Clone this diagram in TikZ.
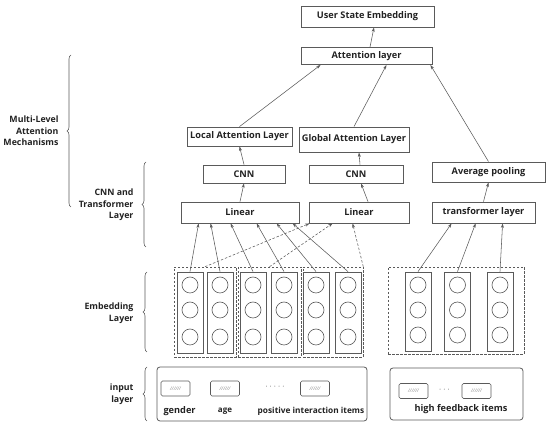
\documentclass[tikz,border=0pt]{standalone}
\usepackage{fontspec}
\setmainfont{Open Sans}
\usetikzlibrary{arrows.meta,calc,decorations.pathreplacing}
\definecolor{linegray}{HTML}{5A5A5A}
\definecolor{txtgray}{HTML}{222222}
\begin{document}
\begin{tikzpicture}[x=1pt,y=-1pt,
  every node/.style={font=\bfseries\fontsize{9.2}{11}\selectfont,text=txtgray},
  box/.style={draw=linegray,line width=0.8pt,inner sep=0pt},
  arr/.style={-{Stealth[length=4.5pt,width=3pt]},draw=linegray,line width=0.55pt},
  darr/.style={arr,dashed,dash pattern=on 2.5pt off 1.8pt},
  col/.style={draw=linegray,line width=0.8pt,minimum width=26pt,inner sep=0pt},
  ball/.style={draw=linegray,circle,minimum size=16pt,inner sep=0pt,line width=0.6pt},
  grp/.style={draw=linegray,dashed,dash pattern=on 2.5pt off 1.5pt,line width=0.6pt,inner sep=0pt},
  tag/.style={draw=linegray,rounded corners=1.5pt,line width=0.6pt,minimum width=29pt,minimum height=15pt,inner sep=0pt,font=\itshape\fontsize{5}{6}\selectfont,text=gray},
  brc/.style={decorate,decoration={brace,amplitude=4pt},draw=linegray,line width=0.6pt},
  lbl/.style={align=right,anchor=east,font=\bfseries\fontsize{8.8}{11.5}\selectfont}]
\useasboundingbox (0,0) rectangle (550,427);

% upper part
\node[box,minimum width=133pt,minimum height=21pt] (user) at (367.5,16.5) {User State Embedding};
\node[box,minimum width=131pt,minimum height=17pt] (attn) at (366.5,56) {Attention layer};
\node[box,minimum width=105pt,minimum height=19pt] (local) at (239.5,136.5) {Local Attention Layer};
\node[box,minimum width=110pt,minimum height=25pt] (global) at (354,139.5) {Global Attention Layer};
\node[box,minimum width=82pt,minimum height=18pt] (cnn1) at (244,174) {CNN};
\node[box,minimum width=94pt,minimum height=18pt] (cnn2) at (356,174) {CNN};
\node[box,minimum width=113pt,minimum height=20pt] (avg) at (488.5,172) {Average pooling};
\node[box,minimum width=118pt,minimum height=21pt] (lin1) at (240,212.5) {Linear};
\node[box,minimum width=100pt,minimum height=21pt] (lin2) at (359,212.5) {Linear};
\node[box,minimum width=103pt,minimum height=21pt] (trans) at (483.5,212.5) {transformer layer};

\draw[arr] ($(attn.north)+(3.5,0)$) -- ($(user.south)+(6.5,0)$);
\draw[arr] (local.north) -- ($(attn.south west)+(20,0)$);
\draw[arr] (global.north) -- ($(attn.south)+(20,0)$);
\draw[arr] (avg.north) -- ($(attn.south east)+(-2,0)$);
\draw[arr] (cnn1.north) -- (local.south);
\draw[arr] ($(cnn2.north)+(4,0)$) -- ($(global.south)+(5,0)$);
\draw[arr] (lin1.north) -- (cnn1.south);
\draw[arr] ($(lin2.north)+(9,0)$) -- ($(cnn2.south)+(5,0)$);
\draw[arr] (trans.north) -- (avg.south);

% embedding layer
\node[grp,minimum width=62pt,minimum height=90pt] (g1) at (205,312) {};
\node[grp,minimum width=63pt,minimum height=90pt] (g2) at (269.5,312) {};
\node[grp,minimum width=60pt,minimum height=90pt] (g3) at (333,312) {};
\node[grp,minimum width=136pt,minimum height=87pt] (g4) at (456,310.5) {};
\foreach \i/\x in {1/190,2/220,3/253,4/284,5/316,6/348} {
  \node[col,minimum height=81pt] (c\i) at (\x,312.5) {};
  \foreach \j/\y in {1/285,2/310,3/337} \node[ball] (b\i\j) at (\x,\y) {};
}
\foreach \i/\x in {1/418,2/457.5,3/500} {
  \node[col,minimum height=79pt] (r\i) at (\x,311.5) {};
  \foreach \j/\y in {1/285,2/310,3/335} \node[ball] (rb\i\j) at (\x,\y) {};
}
\foreach \i/\dx in {1/18,2/30,3/50,4/76,5/96,6/112}
  \draw[arr] (c\i.north) -- ($(lin1.south west)+(\dx,0)$);
\draw[darr] (g1.north) -- ($(lin2.south west)+(1,0)$);
\draw[darr] (g2.north) -- ($(lin2.south west)+(24,0)$);
\draw[darr] (g3.north east) -- ($(lin2.south west)+(44,0)$);
\foreach \i/\dx in {1/20,2/44,3/71}
  \draw[arr] (r\i.north) -- ($(trans.south west)+(\dx,0)$);

% input layer
\node[box,rounded corners=3pt,minimum width=210pt,minimum height=54pt] (inL) at (262,394) {};
\node[box,rounded corners=3pt,minimum width=133pt,minimum height=52pt] (inR) at (456.5,394) {};
\foreach \n/\x in {gen/175.5,age/225,pos/315} \node[tag] (t\n) at (\x,388.5) {//////};
\foreach \n/\x in {hf1/413.5,hf2/476.5} \node[tag] (t\n) at (\x,391) {//////};
\node[font=\fontsize{8}{9}\selectfont,text=gray] (dotsL) at (275,388) {· · · · ·};
\node[font=\fontsize{8}{9}\selectfont,text=gray] (dotsR) at (444.5,390.5) {· · ·};
\node (lgen) at (179.6,411) {gender};
\node[font=\bfseries\fontsize{8}{10}\selectfont] (lage) at (225,411) {age};
\node[font=\bfseries\fontsize{8.3}{10}\selectfont] (lpos) at (311,411) {positive interaction items};
\node (lhf) at (461,409.5) {high feedback items};

% braces and layer names
\draw[brc] (71,207) -- (71,55);
\draw[brc] (146,247) -- (146,162);
\draw[brc] (147,352) -- (147,272);
\draw[brc] (147,421) -- (147,367);
\node[lbl] (mlam) at (62,131) {Multi-Level\\Attention\\Mechanisms};
\node[lbl] (ctl) at (137,205) {CNN and\\Transformer\\Layer};
\node[lbl] (eml) at (137,313) {Embedding\\Layer};
\node[lbl] (inl) at (137,394) {input\\layer};
\end{tikzpicture}
\end{document}
